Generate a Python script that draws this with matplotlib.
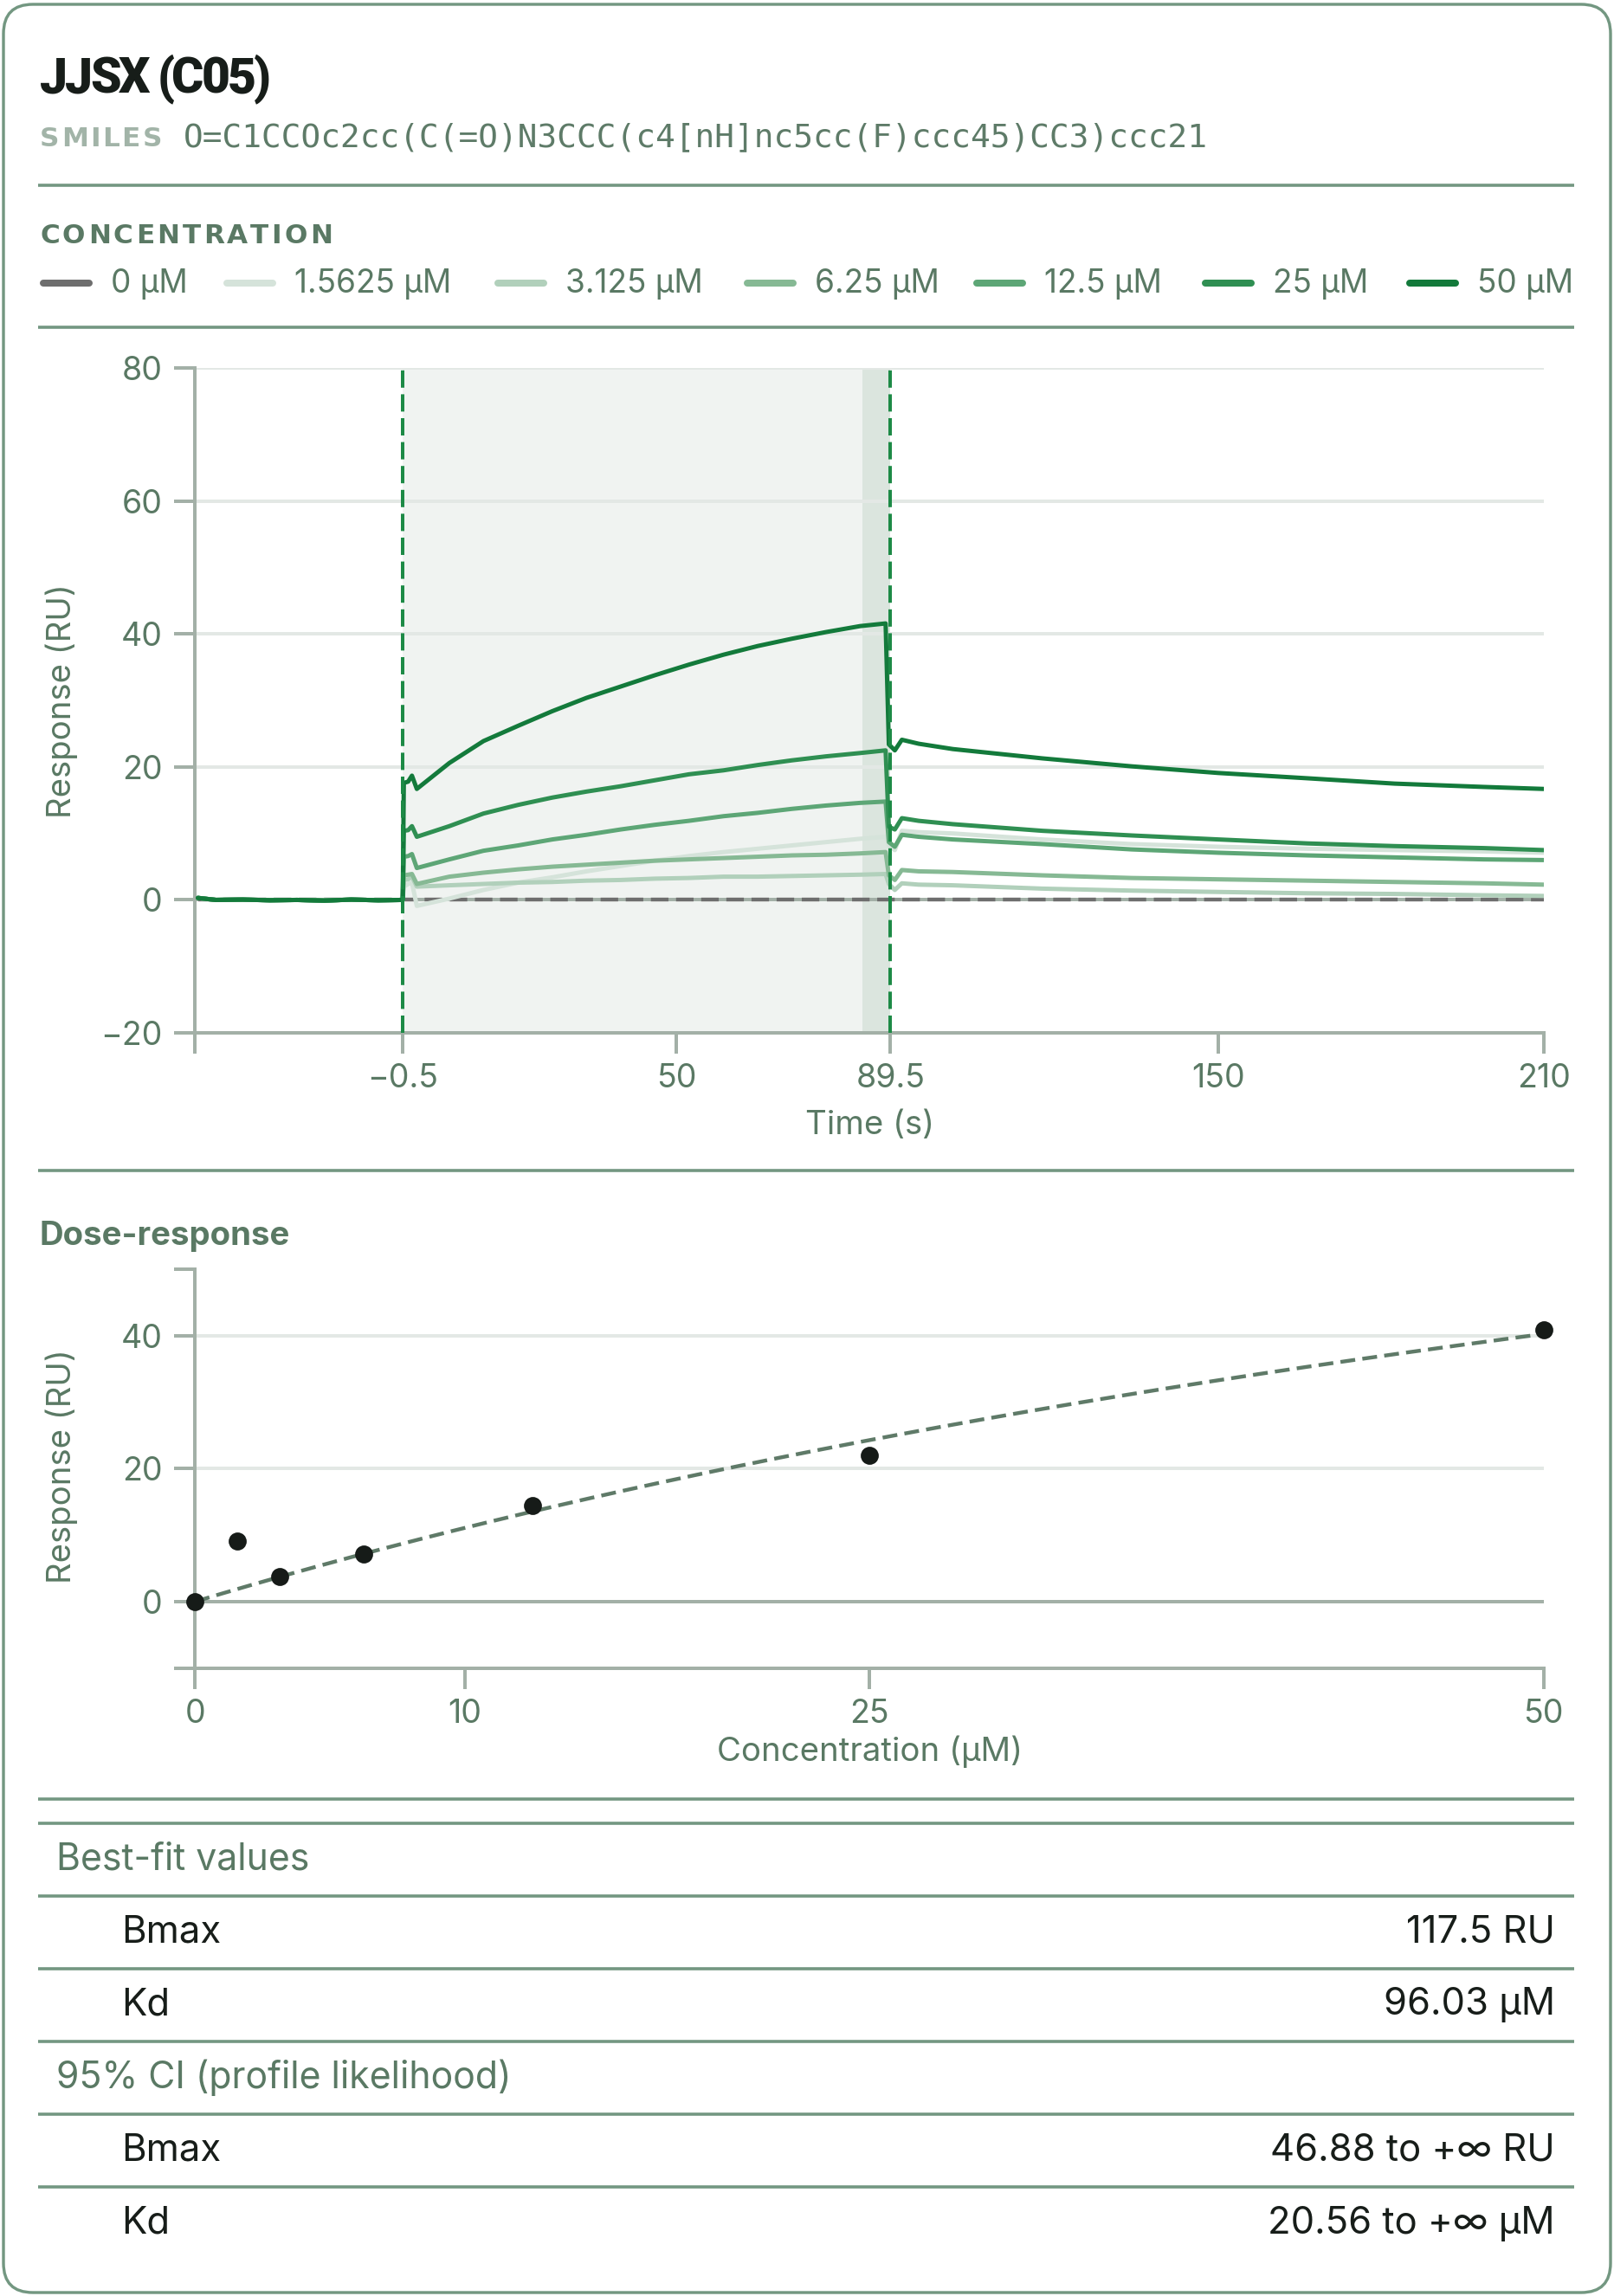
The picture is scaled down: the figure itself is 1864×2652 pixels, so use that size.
import matplotlib
matplotlib.use("Agg")
import matplotlib.pyplot as plt
from matplotlib.patches import FancyBboxPatch
import numpy as np

# ---------------- data ----------------
compound_name = "JJSX (C05)"
smiles = "O=C1CCOc2cc(C(=O)N3CCC(c4[nH]nc5cc(F)ccc45)CC3)ccc21"

conc_labels = ["0 µM", "1.5625 µM", "3.125 µM", "6.25 µM", "12.5 µM", "25 µM", "50 µM"]
conc_colors = ["#6e6e6e", "#d5e3da", "#b1d0bb", "#86b994", "#5da676", "#2f8f52", "#137a3b"]

# pre-injection baseline (shared by all non-zero concentrations)
t_base = [-38.3, -35, -30, -25, -20, -15, -10, -5, -0.5]
r_base = [0.3, 0.0, 0.05, -0.05, 0.0, -0.1, 0.05, -0.05, 0.0]

# association phase
t_assoc = [-0.3, 0.5, 1.2, 2.1, 8.1, 14.4, 20.8, 27.1, 33.4, 39.7, 46.0, 52.3, 58.7, 65.0, 71.3, 77.6, 83.9, 88.6]
r_assoc_1p5625 = [2.0, 2.4, 2.6, -0.9, 0.2, 1.5, 2.6, 3.4, 4.3, 5.1, 5.9, 6.6, 7.2, 7.7, 8.2, 8.7, 9.2, 9.5]
r_assoc_3p125 = [3.0, 3.1, 3.5, 2.0, 2.2, 2.4, 2.6, 2.7, 2.9, 3.0, 3.2, 3.3, 3.5, 3.5, 3.6, 3.7, 3.8, 3.9]
r_assoc_6p25 = [3.7, 3.8, 3.9, 2.4, 3.5, 4.1, 4.6, 5.0, 5.3, 5.6, 5.9, 6.1, 6.3, 6.5, 6.7, 6.8, 7.0, 7.2]
r_assoc_12p5 = [6.5, 6.6, 6.9, 4.8, 6.1, 7.4, 8.2, 9.1, 9.8, 10.6, 11.3, 11.9, 12.6, 13.1, 13.7, 14.2, 14.6, 14.8]
r_assoc_25 = [10.4, 10.5, 11.1, 9.5, 11.1, 13.0, 14.3, 15.4, 16.3, 17.1, 18.0, 18.9, 19.5, 20.3, 21.0, 21.6, 22.1, 22.5]
r_assoc_50 = [17.6, 17.8, 18.7, 16.7, 20.6, 23.9, 26.2, 28.4, 30.4, 32.1, 33.8, 35.4, 36.9, 38.2, 39.3, 40.3, 41.2, 41.6]

# dissociation phase
t_dissoc = [89.2, 90.3, 91.6, 94.7, 101, 117.5, 134, 150, 166.5, 182.5, 199, 210]
r_dissoc_1p5625 = [8.2, 7.5, 10.4, 10.2, 10.0, 9.1, 8.4, 8.0, 7.7, 7.5, 7.3, 7.1]
r_dissoc_3p125 = [2.4, 1.5, 2.5, 2.3, 2.2, 1.7, 1.4, 1.2, 1.0, 0.9, 0.7, 0.6]
r_dissoc_6p25 = [3.7, 3.0, 4.5, 4.3, 4.2, 3.7, 3.3, 3.1, 2.9, 2.7, 2.5, 2.3]
r_dissoc_12p5 = [8.7, 8.0, 9.8, 9.5, 9.1, 8.4, 7.6, 7.1, 6.7, 6.4, 6.1, 6.0]
r_dissoc_25 = [11.0, 10.6, 12.3, 11.9, 11.4, 10.4, 9.7, 9.1, 8.5, 8.1, 7.8, 7.5]
r_dissoc_50 = [23.4, 22.5, 24.1, 23.5, 22.7, 21.3, 20.1, 19.1, 18.3, 17.5, 17.0, 16.7]

# 0 µM reference trace
t_zero = [-38.3, 210]
r_zero = [0.0, 0.0]

injection_start = -0.5
injection_end = 89.5
late_band_start = 84.3
time_ticks = [-0.5, 50, 89.5, 150, 210]
time_tick_labels = ["\u22120.5", "50", "89.5", "150", "210"]
resp_ticks = [-20, 0, 20, 40, 60, 80]
resp_tick_labels = ["\u221220", "0", "20", "40", "60", "80"]

dose_conc = [0, 1.5625, 3.125, 6.25, 12.5, 25, 50]
dose_resp = [0.0, 9.1, 3.8, 7.1, 14.4, 22.0, 40.9]
dose_xticks = [0, 10, 25, 50]
dose_yticks = [0, 20, 40]
bmax = 117.5
kd = 96.03

table_sections = ["Best-fit values", "95% CI (profile likelihood)"]
table_rows = [[("Bmax", "117.5 RU"), ("Kd", "96.03 µM")],
              [("Bmax", "46.88 to +\u221e RU"), ("Kd", "20.56 to +\u221e µM")]]

# ---------------- style ----------------
W, H = 1864, 2652
DPI = 200
plt.rcParams["font.family"] = ["Inter", "DejaVu Sans"]
border_c = "#739781"
title_c = "#171d19"
smiles_lab_c = "#a2b4a8"
smiles_c = "#5e7b68"
label_c = "#5a7964"
spine_c = "#a3b0a7"
grid_c = "#e3e8e5"
PT = 72.0 / DPI  # points per pixel

fig = plt.figure(figsize=(W / DPI, H / DPI), dpi=DPI)
bg = fig.add_axes([0, 0, 1, 1])
bg.set_xlim(0, W)
bg.set_ylim(H, 0)
bg.axis("off")

renderer = fig.canvas.get_renderer()


def spaced_text(x, y, s, tracking, **kw):
    for ch in s:
        if ch == " ":
            x += kw.get("fontsize", 12) / PT * 0.25 + tracking
            continue
        t = bg.text(x, y, ch, **kw)
        bb = t.get_window_extent(renderer)
        x += bb.width + tracking


# card
bg.add_patch(FancyBboxPatch((4, 5), 1856, 2643, boxstyle="round,pad=0,rounding_size=34",
                            fc="white", ec=border_c, lw=3.4 * PT, zorder=0))

# header
spaced_text(46, 107, compound_name, -3.0, fontsize=20.5, fontweight=900,
            family=["Roboto", "DejaVu Sans"], color=title_c, va="baseline")
spaced_text(46, 169, "SMILES", 2.4, fontsize=11.2, fontweight="bold",
            family=["DejaVu Sans"], color=smiles_lab_c, va="baseline")
bg.text(212, 169, smiles, fontsize=13.6, family="DejaVu Sans Mono", color=smiles_c, va="baseline")


def rule(y):
    bg.plot([44, 1818], [y, y], color=border_c, lw=3.6 * PT, solid_capstyle="butt")


rule(213.5)
spaced_text(46, 281, "CONCENTRATION", 3.2, fontsize=11.2, fontweight="bold",
            family=["DejaVu Sans"], color=label_c, va="baseline")

# legend
handle_x = [46, 258, 571, 859, 1124, 1388, 1624]
for hx, lab, col in zip(handle_x, conc_labels, conc_colors):
    bg.plot([hx + 4, hx + 57], [327, 327], color=col, lw=8 * PT, solid_capstyle="round")
    bg.text(hx + 82, 328, lab, fontsize=13.3, color=label_c, va="center", ha="left")
rule(377.5)

# ---------------- sensorgram ----------------
L, R = 225.4, 1782.6
top1, bot1 = 425.3, 1193.0
LW_AX = 4.0 * PT
ax1 = fig.add_axes([L / W, 1 - bot1 / H, (R - L) / W, (bot1 - top1) / H])
xmin = -38.8
ax1.set_xlim(xmin, 210)
ax1.set_ylim(-20, 80)
ax1.axvspan(injection_start, injection_end, color="#f0f3f1", lw=0, zorder=0)
ax1.axvspan(late_band_start, injection_end, color="#dbe5de", lw=0, zorder=0.1)
for gy in [20, 40, 60, 80]:
    ax1.axhline(gy, color=grid_c, lw=LW_AX, zorder=0.5)
ax1.axhline(0, color=spine_c, lw=LW_AX, zorder=0.6)

ax1.plot(t_zero, r_zero, color=conc_colors[0], lw=4.4 * PT, ls=(0, (4.6, 2.0)), zorder=1)
assoc = [r_assoc_1p5625, r_assoc_3p125, r_assoc_6p25, r_assoc_12p5, r_assoc_25, r_assoc_50]
dissoc = [r_dissoc_1p5625, r_dissoc_3p125, r_dissoc_6p25, r_dissoc_12p5, r_dissoc_25, r_dissoc_50]
for i, (ra, rd) in enumerate(zip(assoc, dissoc)):
    t = t_base + t_assoc + t_dissoc
    r = r_base + ra + rd
    ax1.plot(t, r, color=conc_colors[i + 1], lw=5.0 * PT, zorder=2 + i,
             solid_joinstyle="round", solid_capstyle="round")

for xv in [injection_start, injection_end]:
    ax1.axvline(xv, color="#1d8a46", lw=4.0 * PT, ls=(0, (5.0, 1.9)), zorder=10)

for s in ["top", "right"]:
    ax1.spines[s].set_visible(False)
for s in ["left", "bottom"]:
    ax1.spines[s].set_color(spine_c)
    ax1.spines[s].set_linewidth(LW_AX)
ax1.set_xticks([xmin] + time_ticks)
ax1.set_xticklabels([""] + time_tick_labels)
ax1.set_yticks(resp_ticks)
ax1.set_yticklabels(resp_tick_labels)
ax1.tick_params(length=24 * PT, width=LW_AX, color=spine_c, labelcolor=label_c, labelsize=13.5)
ax1.tick_params(axis="y", pad=14 * PT)
ax1.tick_params(axis="x", pad=11 * PT)
fig.text(71 / W, 1 - 810 / H, "Response (RU)", rotation=90, ha="center", va="center",
         fontsize=13.8, color=label_c)
fig.text(1004.8 / W, 1 - 1300 / H, "Time (s)", ha="center", va="center", fontsize=13.8, color=label_c)

rule(1352)
bg.text(46, 1438, "Dose-response", fontsize=13.8, fontweight="bold", color=label_c, va="baseline")

# ---------------- dose-response ----------------
top2, bot2 = 1465.8, 1926.7
ax2 = fig.add_axes([L / W, 1 - bot2 / H, (R - L) / W, (bot2 - top2) / H])
ax2.set_xlim(0, 50)
ax2.set_ylim(-10, 50)
for gy in [20, 40]:
    ax2.axhline(gy, color=grid_c, lw=LW_AX, zorder=0.5)
ax2.axhline(0, color=spine_c, lw=LW_AX, zorder=0.6)
cfit = np.linspace(0, 50, 200)
ax2.plot(cfit, bmax * cfit / (kd + cfit), color="#5f7a68", lw=4.4 * PT, ls=(0, (3.9, 1.9)), zorder=2)
ax2.plot(dose_conc, dose_resp, "o", color="#161b18", ms=18 * PT, zorder=3, clip_on=False)
for s in ["top", "right"]:
    ax2.spines[s].set_visible(False)
for s in ["left", "bottom"]:
    ax2.spines[s].set_color(spine_c)
    ax2.spines[s].set_linewidth(LW_AX)
ax2.set_xticks(dose_xticks)
ax2.set_xticklabels([str(v) for v in dose_xticks])
ax2.set_yticks([-10] + dose_yticks + [50])
ax2.set_yticklabels([""] + [str(v) for v in dose_yticks] + [""])
ax2.tick_params(length=24 * PT, width=LW_AX, color=spine_c, labelcolor=label_c, labelsize=13.5)
ax2.tick_params(axis="y", pad=14 * PT)
ax2.tick_params(axis="x", pad=11 * PT)
fig.text(71 / W, 1 - 1694 / H, "Response (RU)", rotation=90, ha="center", va="center",
         fontsize=13.8, color=label_c)
fig.text(1004.8 / W, 1 - 2023 / H, "Concentration (µM)", ha="center", va="center",
         fontsize=13.8, color=label_c)

rule(2077.5)

# ---------------- table ----------------
y0 = 2105.5
step = 84.1
rule(y0)
k = 0
for sec, rows in zip(table_sections, table_rows):
    bg.text(65, y0 + step * (k + 0.5), sec, fontsize=15.4, color=label_c, va="center")
    k += 1
    rule(y0 + step * k)
    for name, val in rows:
        yc = y0 + step * (k + 0.5)
        bg.text(140, yc, name, fontsize=15.7, color=title_c, va="center")
        bg.text(1796, yc, val, fontsize=15.7, color=title_c, va="center", ha="right")
        k += 1
        if k < 6:
            rule(y0 + step * k)

fig.savefig("out.png", dpi=DPI, facecolor="white")
